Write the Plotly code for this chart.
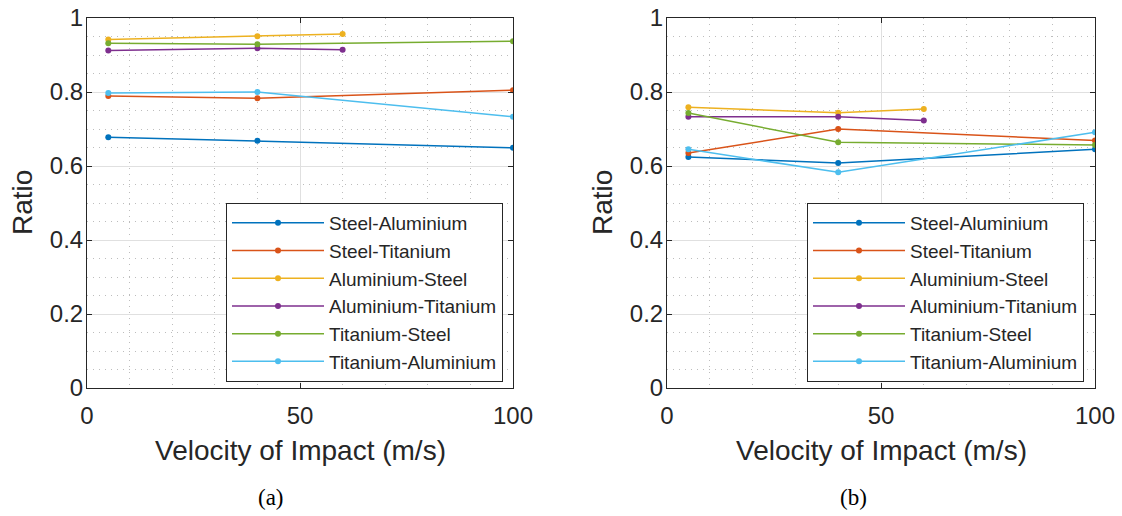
import plotly.graph_objects as go

series_names = ["Steel-Aluminium", "Steel-Titanium", "Aluminium-Steel",
                "Aluminium-Titanium", "Titanium-Steel", "Titanium-Aluminium"]
colors = ["#0072BD", "#D95319", "#EDB120", "#7E2F8E", "#77AC30", "#4DBEEE"]

# (a) velocities and ratios
a_x = {
    "Steel-Aluminium": [5, 40, 100],
    "Steel-Titanium": [5, 40, 100],
    "Aluminium-Steel": [5, 40, 60],
    "Aluminium-Titanium": [5, 40, 60],
    "Titanium-Steel": [5, 40, 100],
    "Titanium-Aluminium": [5, 40, 100],
}
a_y = {
    "Steel-Aluminium": [0.678, 0.668, 0.649],
    "Steel-Titanium": [0.789, 0.783, 0.805],
    "Aluminium-Steel": [0.942, 0.951, 0.957],
    "Aluminium-Titanium": [0.912, 0.918, 0.914],
    "Titanium-Steel": [0.932, 0.929, 0.937],
    "Titanium-Aluminium": [0.797, 0.800, 0.733],
}
# (b)
b_x = a_x
b_y = {
    "Steel-Aluminium": [0.624, 0.608, 0.645],
    "Steel-Titanium": [0.635, 0.700, 0.669],
    "Aluminium-Steel": [0.759, 0.744, 0.754],
    "Aluminium-Titanium": [0.733, 0.733, 0.723],
    "Titanium-Steel": [0.743, 0.664, 0.657],
    "Titanium-Aluminium": [0.645, 0.583, 0.691],
}

x_ticks = [0, 50, 100]
y_ticks = [0, 0.2, 0.4, 0.6, 0.8, 1]
y_tick_text = ["0", "0.2", "0.4", "0.6", "0.8", "1"]
x_title = "Velocity of Impact (m/s)"
y_title = "Ratio"
captions = ["(a)", "(b)"]

W, H = 1122, 516
txt = "#262626"
FONT = "Liberation Sans"
SERIF = "Liberation Serif"

fig = go.Figure()
for name, c in zip(series_names, colors):
    fig.add_trace(go.Scatter(x=a_x[name], y=a_y[name], mode="lines+markers", name=name,
                             line=dict(color=c, width=1.5), marker=dict(color=c, size=6),
                             xaxis="x", yaxis="y", legend="legend"))
for name, c in zip(series_names, colors):
    fig.add_trace(go.Scatter(x=b_x[name], y=b_y[name], mode="lines+markers", name=name,
                             line=dict(color=c, width=1.5), marker=dict(color=c, size=6),
                             xaxis="x2", yaxis="y2", legend="legend2"))

def xax(domain, anchor):
    return dict(domain=domain, anchor=anchor, range=[0, 100], tickvals=x_ticks,
                automargin=False,
                ticks="inside", ticklen=5, tickcolor=txt, showline=True, linecolor=txt,
                linewidth=1, mirror="ticks", showgrid=True, gridcolor="#e0e0e0", gridwidth=1,
                zeroline=False, tickfont=dict(family=FONT, size=24, color=txt),
                ticklabelstandoff=6,
                minor=dict(dtick=10, tick0=0, showgrid=True, gridcolor="#bdbdbd",
                           griddash="1px,5px", gridwidth=1, ticks=""))

def yax(domain, anchor):
    return dict(domain=domain, anchor=anchor, range=[0, 1], tickvals=y_ticks, ticktext=y_tick_text,
                automargin=False,
                ticks="inside", ticklen=5, tickcolor=txt, showline=True, linecolor=txt,
                linewidth=1, mirror="ticks", showgrid=True, gridcolor="#e0e0e0", gridwidth=1,
                zeroline=False, tickfont=dict(family=FONT, size=24, color=txt),
                ticklabelstandoff=-2,
                minor=dict(dtick=0.05, tick0=0, showgrid=True, gridcolor="#bdbdbd",
                           griddash="1px,5px", gridwidth=1, ticks=""))

ydom = [1 - 388 / H, 1 - 18 / H]
leg = dict(yanchor="top", xanchor="right", bgcolor="white", bordercolor=txt, borderwidth=1,
           font=dict(family=FONT, size=19, color=txt), itemwidth=92, tracegroupgap=0)
fig.update_layout(
    width=W, height=H, margin=dict(l=0, r=0, t=0, b=0, autoexpand=False),
    paper_bgcolor="white", plot_bgcolor="white",
    xaxis=xax([87 / W, 513 / W], "y"),
    yaxis=yax(ydom, "x"),
    xaxis2=xax([667 / W, 1095 / W], "y2"),
    yaxis2=yax(ydom, "x2"),
    legend=dict(leg, x=503 / W, y=1 - 203 / H),
    legend2=dict(leg, x=1084 / W, y=1 - 203 / H),
    showlegend=True,
)

for cx, ratio_x, cap_x, cap in [(300, 22, 271, captions[0]), (881, 602, 853, captions[1])]:
    fig.add_annotation(x=cx / W, y=1 - 450 / H, xref="paper", yref="paper",
                       text=x_title, showarrow=False, xanchor="center", yanchor="middle",
                       font=dict(family=FONT, size=28, color=txt))
    fig.add_annotation(x=ratio_x / W, y=1 - 203 / H, xref="paper", yref="paper",
                       text=y_title, showarrow=False, textangle=-90,
                       xanchor="center", yanchor="middle",
                       font=dict(family=FONT, size=28, color=txt))
    fig.add_annotation(x=cap_x / W, y=1 - 497 / H, xref="paper", yref="paper",
                       text=cap, showarrow=False, xanchor="center", yanchor="middle",
                       font=dict(family=SERIF, size=23, color="black"))

fig.write_html("out.html")
